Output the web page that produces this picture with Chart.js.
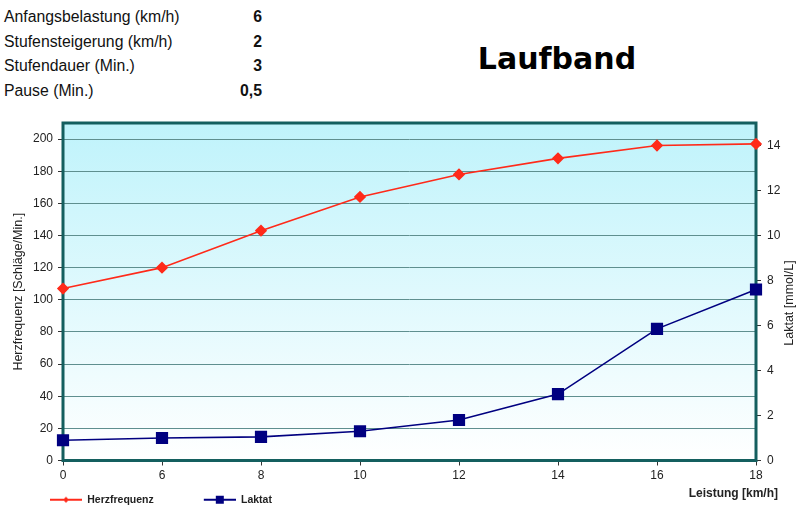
<!DOCTYPE html>
<html lang="de">
<head>
  <meta charset="UTF-8">
  <title>Laufband</title>
  <style>
    html, body { margin: 0; padding: 0; background: #fff; }
    body { width: 800px; height: 524px; position: relative; overflow: hidden; font-family: "Liberation Sans", Arial, sans-serif; }
    #chart { position: absolute; left: 0; top: 0; }
    .param { position: absolute; left: 4px; font-size: 15.8px; line-height: 18px; color: #111; white-space: nowrap; }
    .param-value { position: absolute; right: 538px; font-size: 15.8px; line-height: 18px; font-weight: bold; color: #111; }
    .title { position: absolute; left: 557px; top: 58px; transform: translate(-50%, -50%); font-family: "DejaVu Sans", sans-serif; font-weight: bold; font-size: 30px; color: #000; }
  </style>
</head>
<body>
  <div id="params"></div>
  <div class="title">Laufband</div>
  <canvas id="chart" width="800" height="524"></canvas>

  <script src="https://cdn.jsdelivr.net/npm/chart.js"></script>
  <script>
    // Header values
    const paramLabels = ['Anfangsbelastung (km/h)', 'Stufensteigerung (km/h)', 'Stufendauer (Min.)', 'Pause (Min.)'];
    const paramValues = ['6', '2', '3', '0,5'];

    // Chart data
    const categories = ['0', '6', '8', '10', '12', '14', '16', '18'];
    const herzfrequenz = [107, 120, 143, 164, 178, 188, 196, 197];
    const laktat = [0.9, 1.0, 1.05, 1.3, 1.8, 2.95, 5.85, 7.6];
    const leftTicks = [0, 20, 40, 60, 80, 100, 120, 140, 160, 180, 200];
    const rightTicks = [0, 2, 4, 6, 8, 10, 12, 14];

    // header rows
    const params = document.getElementById('params');
    paramLabels.forEach(function(label, i) {
      const y = 17 + i * 24.5;
      const l = document.createElement('div');
      l.className = 'param';
      l.style.top = (y - 9) + 'px';
      l.textContent = label;
      const v = document.createElement('div');
      v.className = 'param-value';
      v.style.top = (y - 9) + 'px';
      v.textContent = paramValues[i];
      params.appendChild(l);
      params.appendChild(v);
    });

    // legend icons: line with marker
    function legendIcon(color, style) {
      const c = document.createElement('canvas');
      c.width = 78;
      c.height = 12;
      const g = c.getContext('2d');
      g.strokeStyle = color;
      g.lineWidth = 2;
      g.beginPath();
      g.moveTo(46, 6);
      g.lineTo(78, 6);
      g.stroke();
      g.fillStyle = color;
      if (style === 'rect') {
        g.fillRect(58, 2, 8, 8);
      } else {
        g.beginPath();
        g.moveTo(62, 3); g.lineTo(65, 6); g.lineTo(62, 9); g.lineTo(59, 6);
        g.closePath();
        g.fill();
      }
      return c;
    }
    const icons = [legendIcon('#ff2a1a', 'rectRot'), legendIcon('#000080', 'rect')];

    const titleFont = '12.5px "Liberation Sans", Arial, sans-serif';

    const plotBackground = {
      id: 'plotBackground',
      beforeDraw(chart) {
        const {ctx, chartArea: a} = chart;
        const grad = ctx.createLinearGradient(0, a.top, 0, a.bottom);
        grad.addColorStop(0, '#bff3fb');
        grad.addColorStop(1, '#ffffff');
        ctx.save();
        ctx.fillStyle = grad;
        ctx.fillRect(a.left, a.top, a.right - a.left, a.bottom - a.top);
        ctx.restore();
      },
      beforeDatasetsDraw(chart) {
        const {ctx, chartArea: a} = chart;
        ctx.save();
        ctx.strokeStyle = '#145f5f';
        ctx.lineWidth = 3;
        ctx.strokeRect(a.left, a.top, a.right - a.left, a.bottom - a.top);
        ctx.restore();
      },
      afterDraw(chart) {
        const ctx = chart.ctx;
        ctx.save();
        // x axis title, right aligned past the plot like the original
        ctx.font = 'bold 12px "Liberation Sans", Arial, sans-serif';
        ctx.fillStyle = '#222';
        ctx.textAlign = 'right';
        ctx.textBaseline = 'middle';
        ctx.fillText('Leistung [km/h]', 778, 494);
        // right axis title reads bottom to top
        ctx.font = titleFont;
        ctx.textAlign = 'center';
        ctx.translate(790, 303);
        ctx.rotate(-Math.PI / 2);
        ctx.fillText('Laktat [mmol/L]', 0, 0);
        ctx.restore();
      }
    };

    const tickFont = { family: '"Liberation Sans", Arial, sans-serif', size: 12 };

    const config = {
      type: 'line',
      data: {
        labels: categories,
        datasets: [{
          label: 'Herzfrequenz',
          data: herzfrequenz,
          yAxisID: 'y',
          borderColor: '#ff2a1a',
          backgroundColor: '#ff2a1a',
          borderWidth: 1.6,
          pointStyle: 'rectRot',
          pointRadius: 5,
          tension: 0
        }, {
          label: 'Laktat',
          data: laktat,
          yAxisID: 'y1',
          borderColor: '#000080',
          backgroundColor: '#000080',
          borderWidth: 1.6,
          pointStyle: 'rect',
          pointRadius: 7.5,
          tension: 0
        }]
      },
      options: {
        responsive: false,
        animation: false,
        layout: { padding: { top: 123, bottom: 9, left: 0, right: 0 } },
        plugins: {
          tooltip: { enabled: false },
          legend: {
            position: 'bottom',
            align: 'start',
            labels: {
              usePointStyle: true,
              pointStyleWidth: 78,
              padding: 4,
              color: '#222',
              font: { family: '"Liberation Sans", Arial, sans-serif', size: 10.5, weight: 'bold' },
              generateLabels(chart) {
                const items = Chart.defaults.plugins.legend.labels.generateLabels(chart);
                items.forEach(function(item, i) { item.pointStyle = icons[i]; });
                return items;
              }
            }
          }
        },
        scales: {
          x: {
            offset: false,
            border: { display: false },
            grid: { drawOnChartArea: false, drawTicks: true, tickLength: 5, color: '#333' },
            ticks: { color: '#222', font: tickFont, padding: 3, maxRotation: 0 },
            afterFit(scale) { scale.height = 30; }
          },
          y: {
            position: 'left',
            min: 0,
            max: 210,
            border: { display: false },
            grid: { color: '#5f8f8f', tickColor: '#333', tickLength: 5, lineWidth: 1 },
            ticks: { color: '#222', font: tickFont, padding: 5 },
            afterBuildTicks(scale) { scale.ticks = leftTicks.map(function(v) { return { value: v }; }); },
            afterFit(scale) { scale.width = 63; },
            title: {
              display: true,
              text: 'Herzfrequenz [Schläge/Min.]',
              color: '#222',
              font: { family: '"Liberation Sans", Arial, sans-serif', size: 12.5 },
              padding: { top: 11, bottom: 0 }
            }
          },
          y1: {
            position: 'right',
            min: 0,
            max: 15,
            border: { display: false },
            grid: { drawOnChartArea: false, drawTicks: true, tickColor: '#333', tickLength: 5 },
            ticks: { color: '#222', font: tickFont, padding: 6 },
            afterBuildTicks(scale) { scale.ticks = rightTicks.map(function(v) { return { value: v }; }); },
            afterFit(scale) { scale.width = 44; }
          }
        }
      },
      plugins: [plotBackground]
    };

    const chart = new Chart(document.getElementById('chart'), config);
  </script>
</body>
</html>
